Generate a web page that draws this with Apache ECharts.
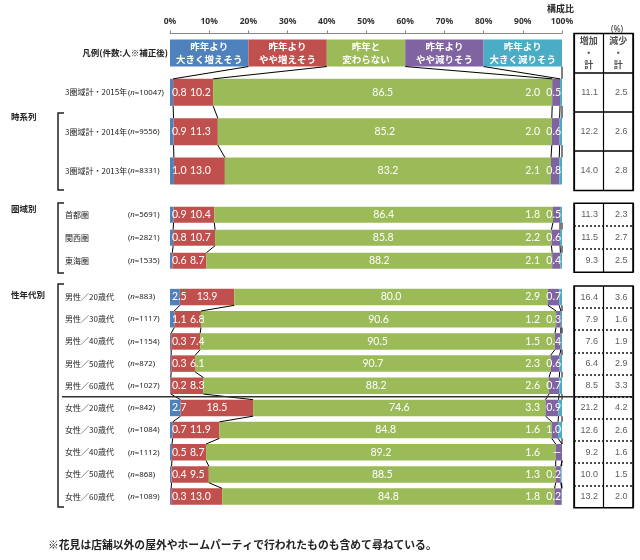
<!DOCTYPE html>
<html><head><meta charset="utf-8">
<script src="https://cdn.jsdelivr.net/npm/echarts@6/dist/echarts.min.js"></script>
<style>html,body{margin:0;padding:0;background:#fff}#c{width:640px;height:560px}</style>
</head><body><div id="c"></div>
<script>
// ---------- data ----------
const GROUP_NAMES = ['時系列', '圏域別', '性年代別'];
const ROW_NAMES = ['3圏域計・2015年', '3圏域計・2014年', '3圏域計・2013年', '首都圏', '関西圏', '東海圏',
  '男性／20歳代', '男性／30歳代', '男性／40歳代', '男性／50歳代', '男性／60歳代',
  '女性／20歳代', '女性／30歳代', '女性／40歳代', '女性／50歳代', '女性／60歳代'];
const ROW_N = [10047, 9556, 8331, 5691, 2821, 1535, 883, 1117, 1154, 872, 1027, 842, 1084, 1112, 868, 1089];
const ROW_GROUP = [0, 0, 0, 1, 1, 1, 2, 2, 2, 2, 2, 2, 2, 2, 2, 2];
const BIG_UP = [0.8, 0.9, 1.0, 0.9, 0.8, 0.6, 2.5, 1.1, 0.3, 0.3, 0.2, 2.7, 0.7, 0.5, 0.4, 0.3];
const SMALL_UP = [10.2, 11.3, 13.0, 10.4, 10.7, 8.7, 13.9, 6.8, 7.4, 6.1, 8.3, 18.5, 11.9, 8.7, 9.5, 13.0];
const NO_CHANGE = [86.5, 85.2, 83.2, 86.4, 85.8, 88.2, 80.0, 90.6, 90.5, 90.7, 88.2, 74.6, 84.8, 89.2, 88.5, 84.8];
const SMALL_DOWN = [2.0, 2.0, 2.1, 1.8, 2.2, 2.1, 2.9, 1.2, 1.5, 2.3, 2.6, 3.3, 1.6, 1.6, 1.3, 1.8];
const BIG_DOWN = [0.5, 0.6, 0.8, 0.5, 0.6, 0.4, 0.7, 0.3, 0.4, 0.6, 0.7, 0.9, 1.0, 0.0, 0.2, 0.2];
const INC_TOTAL = [11.1, 12.2, 14.0, 11.3, 11.5, 9.3, 16.4, 7.9, 7.6, 6.4, 8.5, 21.2, 12.6, 9.2, 10.0, 13.2];
const DEC_TOTAL = [2.5, 2.6, 2.8, 2.3, 2.7, 2.5, 3.6, 1.6, 1.9, 2.9, 3.3, 4.2, 2.6, 1.6, 1.5, 2.0];
const SEGMENT_NAMES = ['昨年より\n大きく増えそう', '昨年より\nやや増えそう', '昨年と\n変わらない', '昨年より\nやや減りそう', '昨年より\n大きく減りそう'];
const LEGEND_SPAN = [20, 20, 20, 20, 20];
const TABLE_HEAD = ['増加\n・\n計', '減少\n・\n計'];
const LEGEND_ROW_LABEL = '凡例(件数:人※補正後)';
const FOOTNOTE = '※花見は店舗以外の屋外やホームパーティで行われたものも含めて尋ねている。';

// ---------- layout / style ----------
const COLORS = ['#4f81bd', '#c0504d', '#9bbb59', '#8064a2', '#4bacc6'];
const X0 = 170, XW = 392, PX = XW / 100;
const TX = 574, TW = 59;
const LAYOUT = [
  { top: 33.4, height: 157.2, bw: 27, legend: true, dotted: false },
  { top: 203.2, height: 69, bw: 16, dotted: true },
  { top: 286, height: 221.7, bw: 16.5, dotted: true }
];
const SEGS = [BIG_UP, SMALL_UP, NO_CHANGE, SMALL_DOWN, BIG_DOWN];
const JP = 'Noto Sans CJK JP';
const ctx = document.createElement('canvas').getContext('2d');
ctx.font = '10.5px Lato';
const tw = s => ctx.measureText(s).width;

const grid = [], xAxis = [], yAxis = [], series = [];
const ITEMS = [];

LAYOUT.forEach((L, gi) => {
  const rows = ROW_GROUP.map((g, i) => g === gi ? i : -1).filter(i => i >= 0);
  const items = (L.legend ? [-1] : []).concat(rows);
  ITEMS.push(items);
  const vals = items.map(r => SEGS.map((s, k) => r < 0 ? LEGEND_SPAN[k] : s[r]));
  const cums = vals.map(v => { let c = 0; return v.map(x => Math.min(100, (c += x))); });

  grid.push({ left: X0, width: XW, top: L.top, height: L.height });
  xAxis.push({
    gridIndex: gi, type: 'value', min: 0, max: 100, interval: 10, position: 'top', show: gi === 0,
    axisLine: { show: true, lineStyle: { color: '#888' } },
    axisTick: { show: true, length: 3, lineStyle: { color: '#888' } },
    axisLabel: { formatter: '{value}%', fontSize: 8.5, color: '#333', fontWeight: 'bold', fontFamily: 'Noto Sans', margin: 7 },
    splitLine: { show: false }
  });
  yAxis.push({
    gridIndex: gi, type: 'category', inverse: true,
    data: items.map(r => r < 0 ? 'legend' : ROW_NAMES[r]),
    axisLine: { show: false }, axisTick: { show: false },
    axisLabel: {
      interval: 0, align: 'left', margin: X0 - 65,
      formatter: (v, idx) => {
        const r = items[idx];
        if (r < 0) return '{leg|' + LEGEND_ROW_LABEL + '}';
        return '{a|' + ROW_NAMES[r] + '}{p|(}{i|n}{p|=' + ROW_N[r] + ')}';
      },
      rich: {
        a: { width: 63, fontSize: 8, color: '#222', fontFamily: JP },
        p: { fontSize: 7.8, color: '#222', fontFamily: 'Noto Sans' },
        i: { fontSize: 7.8, color: '#222', fontFamily: 'Noto Sans', fontStyle: 'italic' },
        leg: { width: 103, align: 'right', fontSize: 8.5, color: '#222', fontFamily: JP, fontWeight: 'bold' }
      }
    }
  });

  SEGS.forEach((s, k) => {
    series.push({
      type: 'bar', stack: 's' + gi, xAxisIndex: gi, yAxisIndex: gi, barWidth: L.bw,
      itemStyle: { color: COLORS[k] },
      label: { show: true, color: '#fff', fontFamily: 'Lato', fontSize: 10.5 },
      data: items.map((r, j) => {
        const v = vals[j][k];
        const prev = k ? cums[j][k - 1] : 0;
        const startPx = X0 + prev * PX;
        let label;
        if (r < 0) {
          label = { position: 'inside', align: 'center', verticalAlign: 'middle', formatter: SEGMENT_NAMES[k],
            fontFamily: JP, fontSize: 9.5, lineHeight: 13, fontWeight: 'bold' };
        } else {
          const txt = (k === 4 && v === 0) ? '—' : v.toFixed(1);
          if (k === 0) label = { position: [2, '50%'], align: 'left', verticalAlign: 'middle', formatter: txt };
          else if (k === 1) {
            const w = tw(txt);
            const left = Math.max(190, X0 + (prev + v / 2) * PX - w / 2);
            label = { position: [left - startPx, '50%'], align: 'left', verticalAlign: 'middle', formatter: txt };
          } else if (k === 2) label = { position: 'inside', align: 'center', verticalAlign: 'middle', formatter: txt };
          else if (k === 3) label = { position: [540 - startPx, '50%'], align: 'right', verticalAlign: 'middle', formatter: txt };
          else label = { position: [561 - startPx, '50%'], align: 'right', verticalAlign: 'middle', formatter: txt };
        }
        return { value: v, label };
      })
    });
  });

  series.push({
    type: 'custom', xAxisIndex: gi, yAxisIndex: gi, z: 5, silent: true,
    data: items.slice(0, -1).map((r, j) => [0, j]),
    renderItem: (params, api) => {
      const j = params.dataIndex;
      const children = [];
      for (let b = 0; b < 5; b++) {
        const p1 = api.coord([cums[j][b], j]);
        const p2 = api.coord([cums[j + 1][b], j + 1]);
        children.push({ type: 'line', shape: { x1: p1[0], y1: p1[1] + L.bw / 2, x2: p2[0], y2: p2[1] - L.bw / 2 },
          style: { stroke: '#000', lineWidth: 1 } });
      }
      return { type: 'group', children };
    }
  });
});

// ---------- table ----------
const tableLines = [];
LAYOUT.forEach((L, gi) => {
  const ti = 3 + gi;
  const items = ITEMS[gi];
  grid.push({ left: TX, width: TW, top: L.top, height: L.height, show: true, borderColor: '#000', borderWidth: 1.5 });
  xAxis.push({ gridIndex: ti, type: 'value', min: 0, max: 2, interval: 1,
    axisLine: { show: false }, axisTick: { show: false }, axisLabel: { show: false },
    splitLine: { show: true, lineStyle: { color: '#000', width: 1.2 } } });
  yAxis.push({ gridIndex: ti, type: 'category', inverse: true, data: items.map(r => 'r' + r),
    axisLine: { show: false }, axisTick: { show: false }, axisLabel: { show: false }, splitLine: { show: false } });
  for (let j = 1; j < items.length; j++) {
    const y = Math.round(L.top + L.height * j / items.length);
    const style = L.dotted
      ? { stroke: '#111', lineWidth: 1.5, lineDash: [2, 2] }
      : { stroke: '#000', lineWidth: 1.5 };
    tableLines.push({ type: 'line', z: 100, shape: { x1: TX, y1: y, x2: TX + TW, y2: y }, style });
  }
  const cells = [];
  items.forEach((r, j) => {
    if (r < 0) return;
    cells.push([1, j, INC_TOTAL[r]], [2, j, DEC_TOTAL[r]]);
  });
  series.push({
    type: 'scatter', xAxisIndex: ti, yAxisIndex: ti, symbolSize: 1, itemStyle: { color: 'rgba(0,0,0,0)' }, silent: true,
    data: cells,
    label: { show: true, position: 'left', distance: 5, color: '#333', fontSize: 9, fontFamily: 'Liberation Sans',
      formatter: p => p.value[2].toFixed(1) }
  });
  if (L.legend) {
    series.push({
      type: 'scatter', xAxisIndex: ti, yAxisIndex: ti, symbolSize: 1, itemStyle: { color: 'rgba(0,0,0,0)' }, silent: true,
      data: [[0.5, 0], [1.5, 0]],
      label: { show: true, position: 'inside', color: '#222', fontSize: 9, lineHeight: 12, fontFamily: JP, fontWeight: 'bold',
        formatter: p => TABLE_HEAD[p.dataIndex] }
    });
  }
});

// ---------- decorations ----------
const bracket = (x, y1, y2) => ({ type: 'polyline', shape: { points: [[x + 6, y1], [x, y1], [x, y2], [x + 6, y2]] }, style: { stroke: '#222', lineWidth: 1.5, fill: null } });
const graphic = tableLines.concat([
  { type: 'text', left: 547, top: 4, style: { text: '構成比', fontSize: 9, fontWeight: 'bold', fontFamily: JP, fill: '#222' } },
  { type: 'text', left: 611, top: 25, style: { text: '(%)', fontSize: 8.5, fontFamily: 'Noto Sans', fill: '#333' } },
  { type: 'text', left: 11, top: 113, style: { text: GROUP_NAMES[0], fontSize: 8.5, fontWeight: 'bold', fontFamily: JP, fill: '#222' } },
  { type: 'text', left: 11, top: 205, style: { text: GROUP_NAMES[1], fontSize: 8.5, fontWeight: 'bold', fontFamily: JP, fill: '#222' } },
  { type: 'text', left: 11, top: 291, style: { text: GROUP_NAMES[2], fontSize: 8.5, fontWeight: 'bold', fontFamily: JP, fill: '#222' } },
  bracket(58, 113, 190),
  bracket(58, 203, 273),
  bracket(58, 284, 507),
  { type: 'line', shape: { x1: 62, y1: 396.7, x2: 633, y2: 396.7 }, style: { stroke: '#333', lineWidth: 1.5 }, z: 10 },
  { type: 'text', left: 48, top: 540, style: { text: FOOTNOTE, fontSize: 10.8, fontWeight: 'bold', fontFamily: JP, fill: '#222' } }
]);

const chart = echarts.init(document.getElementById('c'));
chart.setOption({ animation: false, backgroundColor: '#fff', grid, xAxis, yAxis, series, graphic });
</script>
</body></html>
